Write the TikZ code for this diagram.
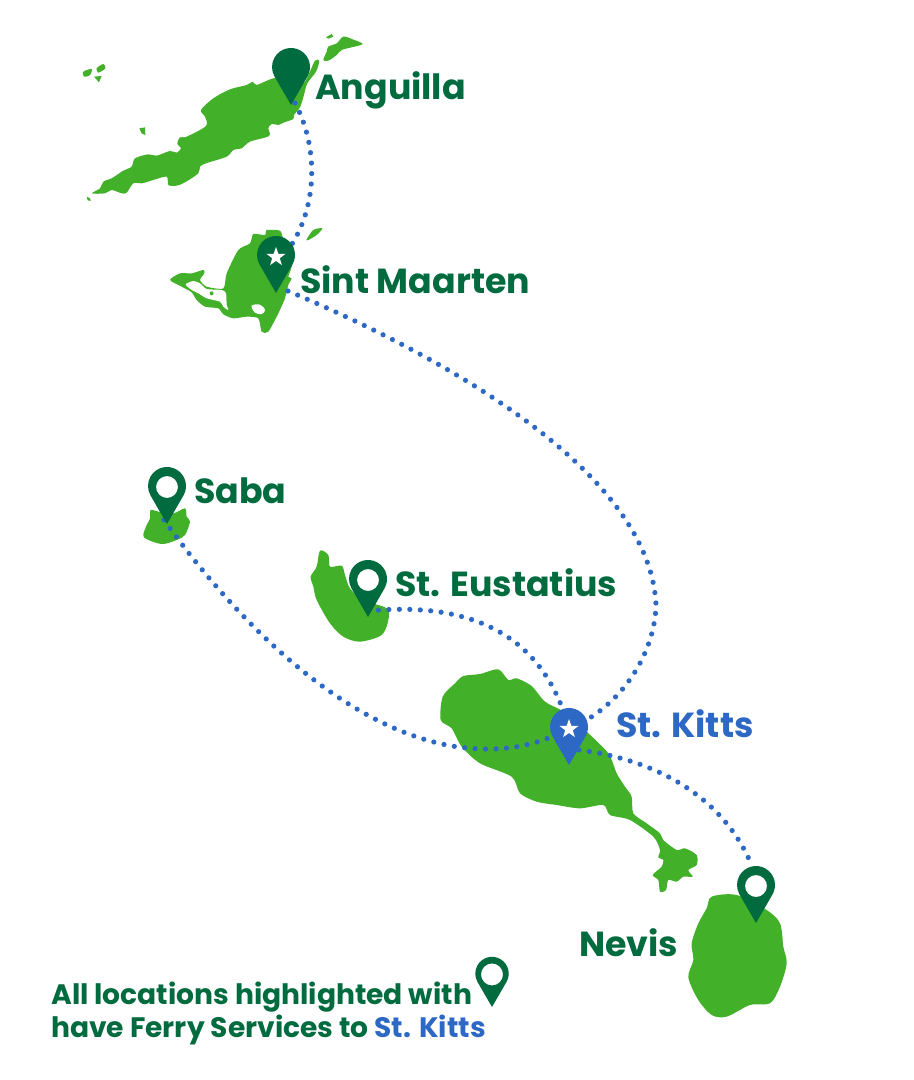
\documentclass[tikz,border=0pt]{standalone}
\usepackage{fontspec}
\setmainfont{Poppins}
\definecolor{isle}{HTML}{43B02A}
\definecolor{deep}{HTML}{006B3F}
\definecolor{sea}{HTML}{2D68C4}
\tikzset{
  land/.style={fill=isle,draw=none},
  route/.style={draw=sea,line width=3.9pt,line cap=round,dash pattern=on 0pt off 7.85pt},
  place/.style={anchor=base west,inner sep=0pt,font=\bfseries\fontsize{26.1}{30}\selectfont,text=deep},
  note/.style={anchor=base west,inner sep=0pt,font=\bfseries\fontsize{21.1}{25}\selectfont,text=deep},
  pin/.pic={
    \begin{scope}[x=.75pt,y=.75pt]
      \fill[fill=\pinfill,even odd rule] (0,0) -- (16.45,28.5) arc[start angle=-30,end angle=210,radius=14.25pt] -- cycle
        \ifnum\pinmode=1 (0,37) circle[radius=\pinhole]\fi;
      \ifnum\pinmode=2
        \begin{scope}[shift={(0,36)}]
          \fill[white] (90:10) -- (126:4) -- (162:10) -- (198:4) -- (234:10) -- (270:4) -- (306:10) -- (342:4) -- (18:10) -- (54:4) -- cycle;
        \end{scope}
      \fi
    \end{scope}
  }
}
\def\pinfill{deep}\def\pinmode{0}\def\pinhole{8.25pt}
\begin{document}
\begin{tikzpicture}[x=.75pt,y=-.75pt]
\fill[white] (0,0) rectangle (913,1080);
\useasboundingbox (0,0) rectangle (913,1080);
% Anguilla
\begin{scope}[shift={(70,20)},x=.25pt,y=-.25pt]
\fill[land] plot[smooth cycle,tension=.5] coordinates {(66,520)(90,505)(100,485)(125,475)(160,452)(185,440)(195,415)(235,403)(260,407)(300,393)(320,398)(333,385)(322,372)(330,352)(350,350)(408,318)(405,290)(393,270)(430,235)(480,208)(530,195)(548,185)(560,195)(610,175)(670,170)(700,190)(722,150)(735,122)(748,122)(738,155)(712,190)(700,232)(690,262)(672,285)(670,297)(640,308)(625,315)(605,312)(595,325)(597,348)(540,365)(515,385)(490,390)(470,410)(408,430)(390,440)(385,460)(345,487)(320,497)(295,495)(290,470)(250,480)(215,490)(190,490)(170,518)(155,520)(125,510)(105,520)};
\fill[land] plot[smooth cycle,tension=.5] coordinates {(760,120)(770,95)(775,80)(800,70)(820,50)(848,58)(878,72)(845,82)(815,90)(800,105)(775,122)};
\fill[land] (768,52) -- (785,42) -- (790,50) -- (775,56) -- cycle;
\fill[land] plot[smooth cycle,tension=.5] coordinates {(40,155)(65,147)(60,165)(42,170)};
\fill[land] plot[smooth cycle,tension=.5] coordinates {(80,145)(100,132)(106,145)(85,158)};
\fill[land] (72,170) -- (95,168) -- (87,187) -- cycle;
\fill[land] (208,325) -- (225,322) -- (226,345) -- (215,340) -- cycle;
\fill[land] (50,530) -- (60,535) -- (62,543) -- (53,541) -- cycle;
\end{scope}
% Sint Maarten
\begin{scope}[shift={(150,210)},x=.25pt,y=-.25pt]
\fill[land] plot[smooth cycle,tension=.4] coordinates {(60,210)(90,190)(125,190)(160,180)(163,190)(150,210)(170,230)(220,235)(230,190)(265,120)(300,100)(310,72)(345,75)(350,60)(390,62)(400,85)(430,110)(425,170)(415,200)(425,205)(415,225)(405,265)(385,310)(355,365)(335,365)(325,325)(290,320)(250,325)(220,313)(205,295)(165,290)(140,270)(125,247)(95,230)};
\fill[white] plot[smooth cycle,tension=.4] coordinates {(107,223)(130,213)(150,220)(170,237)(215,240)(228,250)(230,285)(235,300)(220,290)(210,275)(170,265)(145,250)(125,240)};
\fill[land] (185,250) circle[radius=1.5pt];
\fill[white] plot[smooth cycle,tension=.6] coordinates {(305,287)(330,284)(345,300)(335,312)(315,308)};
\fill[land] plot[smooth cycle,tension=.5] coordinates {(470,88)(490,60)(517,55)(500,75)(475,90)};
\end{scope}
% Saba and St Eustatius
\begin{scope}[shift={(130,460)},x=.25pt,y=-.25pt]
\fill[land] plot[smooth cycle,tension=.5] coordinates {(62,150)(85,155)(130,160)(165,145)(170,170)(180,185)(165,225)(140,240)(95,252)(42,232)(48,200)(60,175)};
\fill[land] plot[smooth cycle,tension=.5] coordinates {(570,272)(595,285)(600,320)(635,317)(645,345)(660,385)(700,420)(770,445)(775,480)(755,525)(690,545)(640,530)(600,490)(560,420)(550,380)(542,350)(560,320)};
\end{scope}
% St Kitts
\begin{scope}[shift={(430,660)},x=.25pt,y=-.25pt]
\fill[land] plot[smooth cycle,tension=.45] coordinates {(32,180)(38,110)(75,70)(100,48)(150,42)(205,28)(235,60)(260,55)(305,78)(345,125)(400,155)(470,215)(535,280)(560,340)(585,380)(605,410)(610,460)(650,490)(690,520)(700,540)(740,570)(765,565)(800,585)(800,615)(775,630)(788,650)(760,650)(740,665)(715,660)(708,690)(690,695)(685,660)(668,645)(695,620)(700,600)(685,592)(690,570)(670,530)(600,480)(540,465)(520,435)(450,445)(380,435)(320,425)(270,400)(245,350)(150,310)(95,260)(65,205)};
\end{scope}
% Nevis
\begin{scope}[shift={(670,860)},x=.25pt,y=-.25pt]
\fill[land] plot[smooth cycle,tension=.5] coordinates {(125,110)(200,105)(290,150)(330,190)(340,260)(350,310)(330,380)(300,430)(240,435)(170,470)(125,465)(85,420)(55,352)(70,300)(65,250)(85,190)(110,145)};
\end{scope}
% anchors of the routes
\coordinate (anguilla) at (295,103);
\coordinate (maarten) at (282,258);
\coordinate (maartenS) at (288,291);
\coordinate (kitts) at (569,729);
\coordinate (saba) at (164,520);
\coordinate (eustatius) at (368,611);
\coordinate (kittsE) at (579,750);
\coordinate (nevis) at (752,866);
\coordinate (bend) at (656,605);
\coordinate (sag) at (488,749);
% routes
\draw[route] (anguilla) .. controls (320,150) and (318,215) .. (maarten);
\draw[route] (maartenS) .. controls (440,355) and (650,470) .. (bend) .. controls (655,650) and (625,705) .. (kitts);
\draw[route] (saba) .. controls (250,640) and (370,750) .. (sag) .. controls (510,749) and (535,746) .. (kitts);
\draw[route] (eustatius) .. controls (450,603) and (540,620) .. (kitts);
\draw[route] (kittsE) .. controls (660,760) and (725,800) .. (nevis);
% pins
\def\pinmode{0}\pic at (291,105) {pin};
\def\pinmode{2}\pic at (276,293) {pin};
\def\pinmode{1}\pic at (167,524) {pin};
\pic at (368,617) {pin};
\pic at (756,923) {pin};
\def\pinhole{9.4pt}\pic[scale=.88] at (492,1007) {pin};
\def\pinmode{2}\def\pinfill{sea}\pic at (569,765) {pin};
% labels
\node[place] (lA) at (315,100) {Anguilla};
\node[place] (lM) at (300,293) {Sint Maarten};
\node[place] (lS) at (194,503) {Saba};
\node[place] (lE) at (395,596) {St. Eustatius};
\node[place,text=sea] (lK) at (616,737) {St. Kitts};
\node[place] (lN) at (579,956) {Nevis};
\node[note] (n1) at (51,1004.5) {All locations highlighted with};
\node[note] (n2) at (51,1037.5) {have Ferry Services to \textcolor{sea}{St. Kitts}};
\end{tikzpicture}
\end{document}
